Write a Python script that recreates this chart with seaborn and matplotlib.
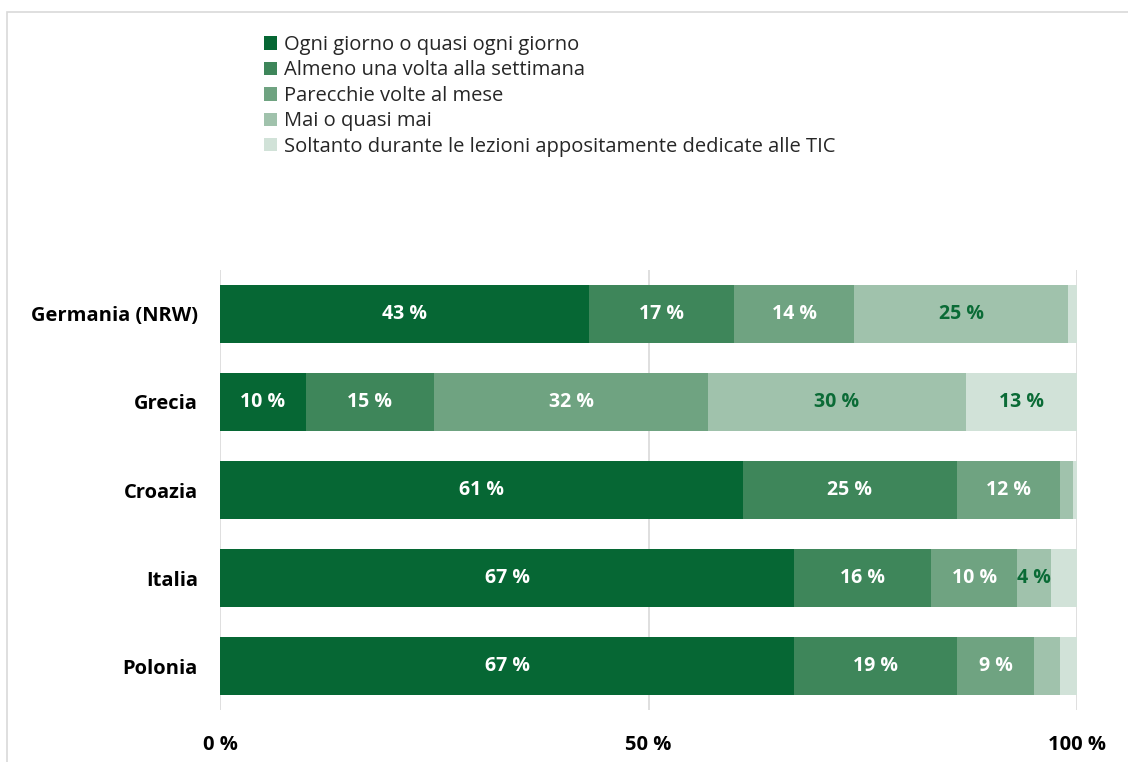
import matplotlib
matplotlib.use("Agg")
import matplotlib.pyplot as plt
import seaborn as sns
import numpy as np
import pandas as pd
from matplotlib.patches import Rectangle

# Survey data: share of students (%) by frequency of ICT use in class
countries = ["Germania (NRW)", "Grecia", "Croazia", "Italia", "Polonia"]
categories = [
    "Ogni giorno o quasi ogni giorno",
    "Almeno una volta alla settimana",
    "Parecchie volte al mese",
    "Mai o quasi mai",
    "Soltanto durante le lezioni appositamente dedicate alle TIC",
]
ogni_giorno = [43, 10, 61, 67, 67]
settimana = [17, 15, 25, 16, 19]
mese = [14, 32, 12, 10, 9]
mai = [25, 30, 1.5, 4, 3]
solo_tic = [1, 13, 0.5, 3, 2]

tick_values = [0, 50, 100]
tick_labels = ["0 %", "50 %", "100 %"]

colors = ["#066734", "#3e865a", "#6fa381", "#a0c2ac", "#d1e2d8"]
label_colors = ["white", "white", "white", "#0a6b36", "#0a6b36"]

series = [ogni_giorno, settimana, mese, mai, solo_tic]
df = pd.DataFrame({cat: vals for cat, vals in zip(categories, series)}, index=countries)
cum = df.cumsum(axis=1)

sns.set_theme(style="white")
plt.rcParams["font.family"] = ["Open Sans", "DejaVu Sans"]

fig = plt.figure(figsize=(11.28, 7.62), dpi=100)
W, H = 1128, 762
ax = fig.add_axes([220 / W, 1 - 710 / H, (1077 - 220) / W, (710 - 270) / H])

# vertical grid lines behind the bars
for t in tick_values:
    ax.axvline(t, color="#d9d9d9", lw=1.2, zorder=0)

# stacked bars: draw cumulative totals from the outermost segment inwards
for i in range(len(categories) - 1, -1, -1):
    plot_df = pd.DataFrame({"country": countries, "value": cum.iloc[:, i].values})
    sns.barplot(data=plot_df, x="value", y="country", orient="h",
                color=colors[i], saturation=1, width=0.65,
                linewidth=0, ax=ax, zorder=2)

# value labels in the middle of each segment
for i, cat in enumerate(categories):
    for j, c in enumerate(countries):
        v = df.loc[c, cat]
        if v >= 4:
            center = cum.loc[c, cat] - v / 2
            ax.text(center, j, f"{v:g} %", ha="center", va="center",
                    color=label_colors[i], fontsize=14, fontweight="bold", zorder=3)

ax.set_xlim(0, 100)
ax.set_ylim(4.5, -0.5)
ax.set_xticks(tick_values)
ax.set_xticklabels(tick_labels, fontsize=14.5, fontweight="bold", color="black")
ax.tick_params(axis="x", length=0, pad=18)
ax.tick_params(axis="y", length=0, pad=16)
for lab in ax.get_yticklabels():
    lab.set_fontsize(14.5)
    lab.set_fontweight("bold")
    lab.set_color("black")
ax.set_xlabel("")
ax.set_ylabel("")
for s in ax.spines.values():
    s.set_visible(False)

# legend at the top
handles = [Rectangle((0, 0), 1, 1, facecolor=c, edgecolor="none") for c in colors]
fig.legend(handles, categories, loc="upper left",
           bbox_to_anchor=(256 / W, 1 - 27 / H), frameon=False,
           fontsize=14.5, handlelength=0.65, handleheight=0.65,
           handletextpad=0.35, labelspacing=0.27, borderaxespad=0)

# thin outer frame
fig.patches.append(Rectangle((7 / W, -0.1), 1.2, 1 - 12 / H + 0.1,
                             transform=fig.transFigure, fill=False,
                             edgecolor="#d9d9d9", lw=1.2))

fig.savefig("out.png", dpi=100)
